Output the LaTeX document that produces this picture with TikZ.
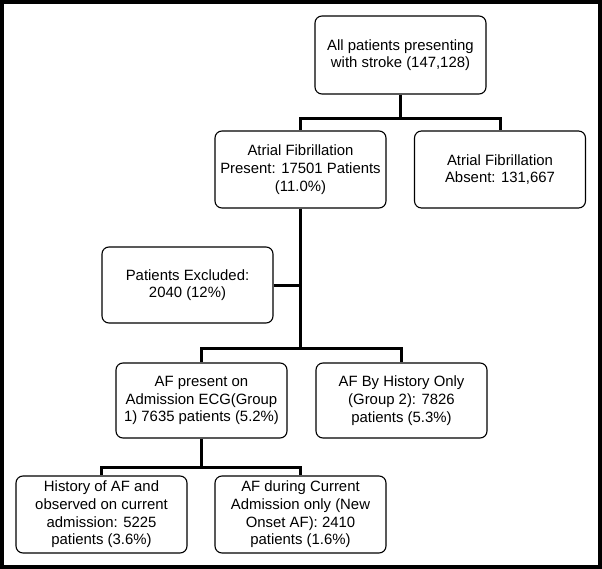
\documentclass[tikz,border=0pt]{standalone}
\usepackage{fontspec}
\setmainfont{Liberation Sans}
\begin{document}
\begin{tikzpicture}
    [
        x=1pt,y=-1pt,
        box/.style={rectangle, draw, rounded corners=7pt, line width=1.1pt,
            minimum width=171pt, minimum height=77pt, inner sep=1pt,
            align=center, font=\fontsize{14.9}{17.7}\selectfont},
        link/.style={line width=3pt,},
    ]

    % frame
    \useasboundingbox (0,0) rectangle (602,569);
    \draw [line width=4pt] (2,2) rectangle (600,567);

    % level 1
    \node (all) at (400.5,55)  [box, minimum height=78pt] {All patients presenting\\with stroke (147,128)};
    \node (afp) at (300.5,169.5) [box] {Atrial Fibrillation\\Present: 17501 Patients\\(11.0\%)};
    \node (afa) at (500,169.5)   [box] {Atrial Fibrillation\\Absent: 131,667};
    \coordinate (j1) at (400.5,119);

    \draw [link] (all.south) -- (j1) -| (afp.north);
    \draw [link] (j1) -| (afa.north);

    % level 2
    \node (excl) at (187.5,285) [box, minimum height=76pt] {Patients Excluded:\\2040 (12\%)};
    \node (ecg)  at (201.5,400.5) [box, minimum height=75pt] {AF present on\\Admission ECG(Group\\1) 7635 patients (5.2\%)};
    \node (hist) at (401.5,400.5) [box, minimum height=75pt] {AF By History Only\\(Group 2): 7826\\patients (5.3\%)};
    \coordinate (j2) at (300.5,348);

    \draw [link] (afp.south) -- (j2) -| (ecg.north);
    \draw [link] (j2) -| (hist.north);
    \draw [link] (excl.east) -- (excl.east -| afp.south);

    % level 3
    \node (obs) at (101.5,514.5) [box] {History of AF and\\observed on current\\admission: 5225\\patients (3.6\%)};
    \node (new) at (300.5,514.5) [box] {AF during Current\\Admission only (New\\Onset AF): 2410\\patients (1.6\%)};
    \coordinate (j3) at (201.5,467);

    \draw [link] (ecg.south) -- (j3) -| (obs.north);
    \draw [link] (j3) -| (new.north);

\end{tikzpicture}
\end{document}
